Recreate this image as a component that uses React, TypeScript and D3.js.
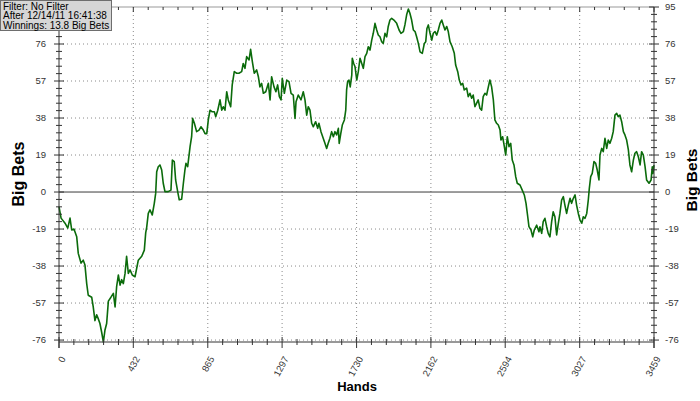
import React from "react";
import * as d3 from "d3";

const hands = [
  0, 12, 35, 51, 64, 74, 87, 103, 112, 128, 141, 151, 161, 170, 190, 199, 209, 219, 228, 238, 248, 258, 267, 277, 287, 302, 316, 326, 335, 345, 355, 364, 374, 384, 393, 403, 413, 426, 442, 452, 461, 481, 496, 504, 510, 519, 529, 542, 554, 562, 568, 577, 587, 597, 606, 616, 635, 651, 659, 670, 678, 690, 699,
  713, 723, 732, 738, 748, 762, 771, 777, 787, 800, 814, 825, 839, 849, 859, 868, 878, 891, 903, 911, 923, 936, 946, 955, 965, 975, 984, 998, 1007, 1019, 1033, 1046, 1062, 1071, 1081, 1091, 1105, 1114, 1124, 1135, 1149, 1159, 1168, 1178, 1188, 1202, 1217, 1227, 1236, 1250, 1261, 1271, 1281, 1291, 1298, 1310, 1324, 1337, 1349, 1362, 1372, 1378,
  1391, 1407, 1420, 1430, 1440, 1449, 1459, 1469, 1478, 1492, 1504, 1511, 1523, 1536, 1546, 1556, 1565, 1575, 1585, 1595, 1604, 1614, 1624, 1629, 1638, 1647, 1659, 1667, 1672, 1678, 1686, 1693, 1702, 1705, 1713, 1721, 1731, 1740, 1750, 1760, 1769, 1779, 1789, 1798, 1808, 1818, 1827, 1837, 1847, 1856, 1866, 1876, 1885, 1895, 1905, 1914, 1924, 1934, 1947, 1963, 1977, 1988, 2002, 2011, 2021, 2031, 2040, 2050, 2060, 2070,
  2079, 2089, 2099, 2112, 2124, 2132, 2139, 2147, 2157, 2167, 2176, 2186, 2196, 2205, 2215, 2225, 2234, 2244, 2254, 2263, 2273, 2286, 2298, 2306, 2318, 2327, 2337, 2347, 2356, 2370, 2379, 2389, 2399, 2408, 2418, 2428, 2437, 2447, 2457, 2466, 2476, 2486, 2496, 2505, 2515, 2525, 2534, 2544, 2554, 2564, 2569, 2579, 2589, 2597, 2606, 2616, 2626, 2635, 2645, 2655, 2664, 2680, 2693, 2705, 2715, 2725, 2732, 2744, 2754, 2763, 2777, 2790,
  2796, 2806, 2815, 2825, 2835, 2844, 2854, 2864, 2873, 2883, 2893, 2903, 2912, 2922, 2932, 2941, 2951, 2961, 2971, 2980, 2990, 3000, 3009, 3019, 3029, 3039, 3048, 3058, 3068, 3077, 3083, 3091, 3100, 3110, 3120, 3129, 3139, 3145, 3155, 3164, 3174, 3184, 3193, 3203, 3213, 3222, 3232, 3242, 3251, 3261, 3271, 3281, 3290, 3300, 3310, 3319, 3329, 3339, 3348, 3358, 3368, 3378, 3387, 3397, 3407, 3416, 3430, 3442, 3449, 3453, 3459,
];

const bigBets = [
  -7.5, -13.4, -16, -18.5, -13.4, -19.5, -19, -23, -31.5, -36.5, -35, -37.5, -47, -53, -54, -59, -66, -63, -65, -67.5, -72, -77, -71, -67.5, -56, -54, -52, -59, -48.6, -42.6, -47.8, -45, -47, -41.8, -33, -41.8, -40, -42.6, -43.5, -39, -35, -33, -29.8, -21, -18, -11, -9.2, -11.8, -5.8, -0.7, 10.4, 13, 13.9, 11.3, 4.5, 0.2, 0.2, 1, 16.4, 15.6, 6.2, 0.2, -4,
  -3.7, 4.5, 11.3, 14.7, 13, 23.3, 28.4, 37.8, 35.3, 31, 31.8, 33.5, 31.8, 30, 30, 37, 42, 41.2, 41.2, 38.7, 42, 47.3, 42, 43.8, 42, 51.5, 47.3, 43.8, 55, 61.8, 61, 61, 61.8, 66, 63.5, 69.5, 67.8, 73.3, 67, 61, 62.7, 59.2, 54, 55.8, 50.7, 51.5, 55.8, 47.3, 59.2, 54, 51.5, 55, 49, 47.3, 58.4, 50.7, 57.5, 56.7, 50.7, 49.8, 37.8, 46.4,
  49.8, 47.3, 51.5, 47.3, 39.5, 43.8, 42, 35.3, 33.5, 36.1, 32.7, 35.3, 31, 27.6, 25, 22.4, 25, 27.6, 31, 28.4, 31, 29.3, 32.7, 25, 30, 34.4, 37, 42, 52.4, 56.7, 57.5, 54, 60, 68.7, 66, 64.3, 57.5, 61.8, 68.7, 66, 63.5, 69.5, 71.2, 74.6, 72.9, 78, 81.5, 86.6, 83.2, 80.6, 79.7, 77.2, 76.3, 81.5, 79.7, 85, 88.3, 89.2, 88.3, 86.6, 83.2, 81.5, 82.4, 85.8, 91, 94, 91.8, 88.3, 83.2, 82.4,
  79.7, 76.3, 72, 71.2, 76.3, 77.2, 84, 85.8, 81.5, 78, 81.5, 82.4, 80.6, 83.2, 86.6, 88.3, 85.8, 83.2, 85, 82.4, 77.2, 74.6, 71.2, 65.2, 61.8, 57.5, 55, 55.8, 52.4, 53.3, 49, 50.7, 48.2, 49.8, 43.8, 45.6, 47.3, 43, 42, 49, 50.7, 49.8, 54, 57.5, 54, 47.3, 37, 35.3, 34.4, 31.8, 26.7, 28.4, 23.3, 19, 28.4, 23.3, 25, 16.4, 13.9, 7.9, 4.5, 3.6, 1, -1.5, -5.8, -12.7, -17.8, -19.5, -23, -19.5, -17, -20.4,
  -17.8, -21.2, -15.2, -13.5, -17.8, -21.2, -23, -15.2, -10.1, -12.7, -22, -16, -11, -4.1, -2.4, -6.7, -11, -6.7, -3.2, -5.8, -3.2, -1.5, -6.7, -11, -14.4, -16, -12.7, -13.5, -11, -4.1, 1.9, 7.9, 9.6, 15.6, 14.7, 11.3, 6.2, 19, 22.4, 20.7, 27.6, 22.4, 26.7, 25, 27.6, 31, 39.5, 40.4, 38.7, 39.5, 36.1, 31, 29.3, 26.7, 21.6, 13.9, 10.4, 16.4, 19.9, 20.7, 18.1, 13.9, 20.7, 19, 13, 6.2, 4.5, 6.2, 13, 9.6, 13.8,
];

const xTickLabels = [0, 432, 865, 1297, 1730, 2162, 2594, 3027, 3459];
const yTickLabels = [-76, -57, -38, -19, 0, 19, 38, 57, 76, 95];
const legendLines = ["Filter: No Filter", "After 12/14/11 16:41:38", "Winnings: 13.8 Big Bets"];

const W = 700;
const H = 401;
const L = 59;
const R = 654;
const T = 7;
const B = 342;

export default function App() {
  const x = d3.scaleLinear().domain([0, 3459]).range([L, R]);
  const y = d3.scaleLinear().domain([-77, 95]).range([B, T]);

  const xMinor: number[] = [];
  for (let i = 0; i < xTickLabels.length - 1; i++) {
    const a = xTickLabels[i], b = xTickLabels[i + 1];
    for (let k = 1; k < 5; k++) xMinor.push(a + ((b - a) * k) / 5);
  }
  const yMinor: number[] = [];
  for (let i = 0; i < yTickLabels.length - 1; i++) {
    const a = yTickLabels[i], b = yTickLabels[i + 1];
    for (let k = 1; k < 5; k++) yMinor.push(a + ((b - a) * k) / 5);
  }

  const pts: [number, number][] = hands.map((h, i) => [h, bigBets[i]]);
  const line = d3
    .line<[number, number]>()
    .x((d) => x(d[0]))
    .y((d) => y(d[1]));

  const axisColor = "#333";
  const font = "'Liberation Sans', Arial, sans-serif";

  return (
    <svg
      width={W}
      height={H}
      style={{ position: "absolute", left: 0, top: 0, background: "#fff" }}
      fontFamily={font}
    >
      <rect x={0} y={0} width={W} height={H} fill="#fff" />
      {yTickLabels
        .filter((v) => v !== 0 && v !== 95)
        .map((v) => (
          <line key={"gy" + v} x1={L} x2={R} y1={y(v)} y2={y(v)} stroke="#8a8a8a" strokeDasharray="1,3" strokeWidth={1} />
        ))}
      {xTickLabels.slice(1, -1).map((v) => (
        <line key={"gx" + v} x1={x(v)} x2={x(v)} y1={T} y2={B} stroke="#8a8a8a" strokeDasharray="1,3" strokeWidth={1} />
      ))}
      <line x1={L} x2={R} y1={y(0)} y2={y(0)} stroke="#3a3a3a" strokeWidth={1} />
      <line x1={L} x2={R} y1={T} y2={T} stroke="#999" strokeWidth={1} />
      <path d={line(pts) || ""} fill="none" stroke="#0b6b0b" strokeWidth={1.6} strokeLinejoin="round" />
      <line x1={L} x2={L} y1={T} y2={348} stroke={axisColor} />
      <line x1={R} x2={R} y1={T} y2={348} stroke={axisColor} />
      <line x1={L} x2={R} y1={B} y2={B} stroke={axisColor} />
      {yTickLabels.map((v) => (
        <g key={"yt" + v}>
          <line x1={L - 5} x2={L + 5} y1={y(v)} y2={y(v)} stroke={axisColor} />
          <line x1={R - 5} x2={R + 5} y1={y(v)} y2={y(v)} stroke={axisColor} />
          {v !== 95 && (
            <text x={46} y={y(v)} dy="0.35em" textAnchor="end" fontSize={9.5} fill="#333">
              {v}
            </text>
          )}
          <text x={665} y={y(v)} dy="0.35em" textAnchor="start" fontSize={9.5} fill="#333">
            {v}
          </text>
        </g>
      ))}
      {yMinor.map((v, i) => (
        <g key={"ym" + i}>
          <line x1={L - 3} x2={L + 3} y1={y(v)} y2={y(v)} stroke={axisColor} />
          <line x1={R - 3} x2={R + 3} y1={y(v)} y2={y(v)} stroke={axisColor} />
        </g>
      ))}
      {xTickLabels.map((v) => (
        <g key={"xt" + v}>
          <line x1={x(v)} x2={x(v)} y1={B - 5} y2={B + 6} stroke={axisColor} />
          <line x1={x(v)} x2={x(v)} y1={T} y2={T + 5} stroke={axisColor} />
          <text
            transform={`translate(${x(v) + 4},${B + 15}) rotate(-62)`}
            textAnchor="end"
            dy="0.35em"
            fontSize={9.5}
            fill="#333"
          >
            {v}
          </text>
        </g>
      ))}
      {xMinor.map((v, i) => (
        <g key={"xm" + i}>
          <line x1={x(v)} x2={x(v)} y1={B - 3} y2={B + 3} stroke={axisColor} />
          <line x1={x(v)} x2={x(v)} y1={T} y2={T + 3} stroke={axisColor} />
        </g>
      ))}
      <text x={357} y={391} textAnchor="middle" fontSize={13} fontWeight="bold" fill="#000">
        Hands
      </text>
      <text transform="translate(24,174) rotate(-90)" textAnchor="middle" fontSize={16} fontWeight="bold" fill="#000">
        Big Bets
      </text>
      <text transform="translate(697,180) rotate(-90)" textAnchor="middle" fontSize={15.5} fontWeight="bold" fill="#000">
        Big Bets
      </text>
      <rect x={0.5} y={0.5} width={111} height={30} fill="#d6d6d6" stroke="#6e6e6e" />
      {legendLines.map((t, i) => (
        <text key={t} x={3} y={9.5 + i * 9.5} fontSize={10} fill="#000">
          {t}
        </text>
      ))}
    </svg>
  );
}
